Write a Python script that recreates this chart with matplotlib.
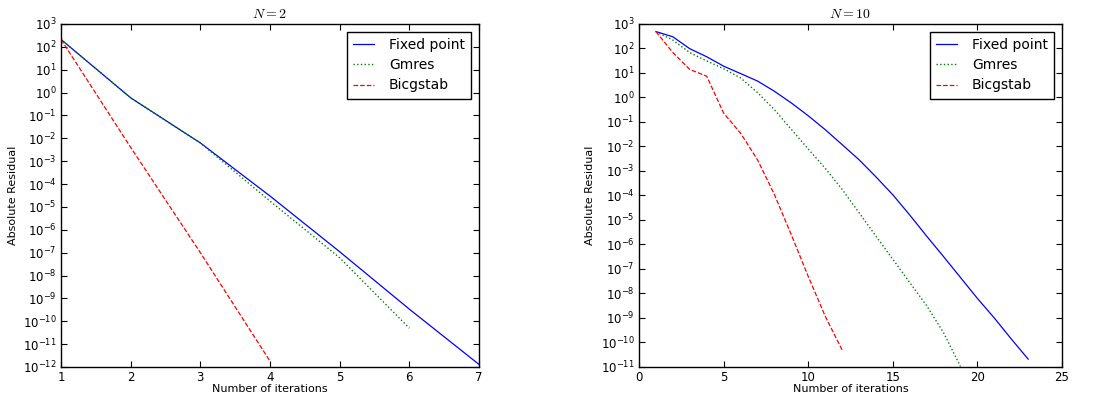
import numpy as np
import matplotlib
matplotlib.use('Agg')
import matplotlib.pyplot as plt
from matplotlib.ticker import LogLocator, NullLocator

plt.rcParams['mathtext.fontset'] = 'cm'
plt.rcParams['xtick.direction'] = 'in'
plt.rcParams['ytick.direction'] = 'in'
plt.rcParams['xtick.top'] = True
plt.rcParams['ytick.right'] = True
plt.rcParams['xtick.major.size'] = 4
plt.rcParams['ytick.major.size'] = 4
plt.rcParams['axes.linewidth'] = 1.0

# N = 2
iters_n2_fp = [1, 2, 3, 4, 5, 6, 7]
res_n2_fp = [2.1e2, 5.9e-1, 6.3e-3, 3.0e-5, 1.1e-7, 3.4e-10, 1.3e-12]
iters_n2_gm = [1, 2, 3, 4, 5, 6]
res_n2_gm = [2.1e2, 5.9e-1, 6.3e-3, 1.8e-5, 6.0e-8, 5.0e-11]
iters_n2_bi = [1, 2, 3, 4]
res_n2_bi = [2.1e2, 4.0e-3, 1.0e-7, 1.8e-12]

# N = 10
iters_n10_fp = list(range(1, 24))
res_n10_fp = [4.9e2, 3.0e2, 9.8e1, 4.6e1, 1.9e1, 9.5, 4.7, 1.8, 6.0e-1, 1.8e-1,
              4.9e-2, 1.2e-2, 2.9e-3, 5.8e-4, 1.07e-4, 1.6e-5, 2.2e-6, 3.2e-7,
              4.5e-8, 6.3e-9, 1.0e-9, 1.4e-10, 2.1e-11]
iters_n10_gm = list(range(1, 20))
res_n10_gm = [4.9e2, 2.2e2, 6.8e1, 3.1e1, 1.5e1, 6.3, 1.6, 3.2e-1, 5.0e-2, 7.9e-3,
              1.3e-3, 1.8e-4, 2.0e-5, 2.2e-6, 2.5e-7, 2.8e-8, 3.2e-9, 2.5e-10, 1.05e-11]
iters_n10_bi = list(range(1, 13))
res_n10_bi = [4.9e2, 6.8e1, 1.4e1, 7.4, 2.3e-1, 3.5e-2, 2.9e-3, 1.1e-4, 2.5e-6,
              5.0e-8, 1.2e-9, 5.0e-11]

fig = plt.figure(figsize=(10.98, 3.98), dpi=100)
ax1 = fig.add_axes([0.0556, 0.0779, 0.3806, 0.8618])
ax2 = fig.add_axes([0.5820, 0.0779, 0.3852, 0.8618])

panels = [
    (ax1, r'$N=2$', (iters_n2_fp, res_n2_fp), (iters_n2_gm, res_n2_gm),
     (iters_n2_bi, res_n2_bi), (1, 7), (1e-12, 1e3), [1, 2, 3, 4, 5, 6, 7]),
    (ax2, r'$N=10$', (iters_n10_fp, res_n10_fp), (iters_n10_gm, res_n10_gm),
     (iters_n10_bi, res_n10_bi), (0, 25), (1e-11, 1e3), [0, 5, 10, 15, 20, 25]),
]

for ax, title, fp, gm, bi, xlim, ylim, xticks in panels:
    ax.semilogy(fp[0], fp[1], color='b', ls='-', lw=0.9, label='Fixed point')
    ax.semilogy(gm[0], gm[1], color='g', ls=':', lw=1.0, label='Gmres')
    ax.semilogy(bi[0], bi[1], color='r', ls='--', lw=0.9, label='Bicgstab')
    ax.set_xlim(*xlim)
    ax.set_ylim(*ylim)
    ax.set_xticks(xticks)
    ax.yaxis.set_major_locator(LogLocator(base=10, numticks=30))
    ax.yaxis.set_minor_locator(NullLocator())
    ax.tick_params(labelsize=8.5, pad=3)
    ax.set_xlabel('Number of iterations', fontsize=8, labelpad=0)
    ax.set_ylabel('Absolute Residual', fontsize=8)
    ax.set_title(title, fontsize=10, pad=4)
    ax.legend(loc='upper right', fontsize=10, fancybox=False, edgecolor='k',
              framealpha=1, handlelength=1.5, handletextpad=1.1,
              labelspacing=0.45, borderpad=0.45, borderaxespad=0.55)

fig.savefig('out.png', dpi=100)
